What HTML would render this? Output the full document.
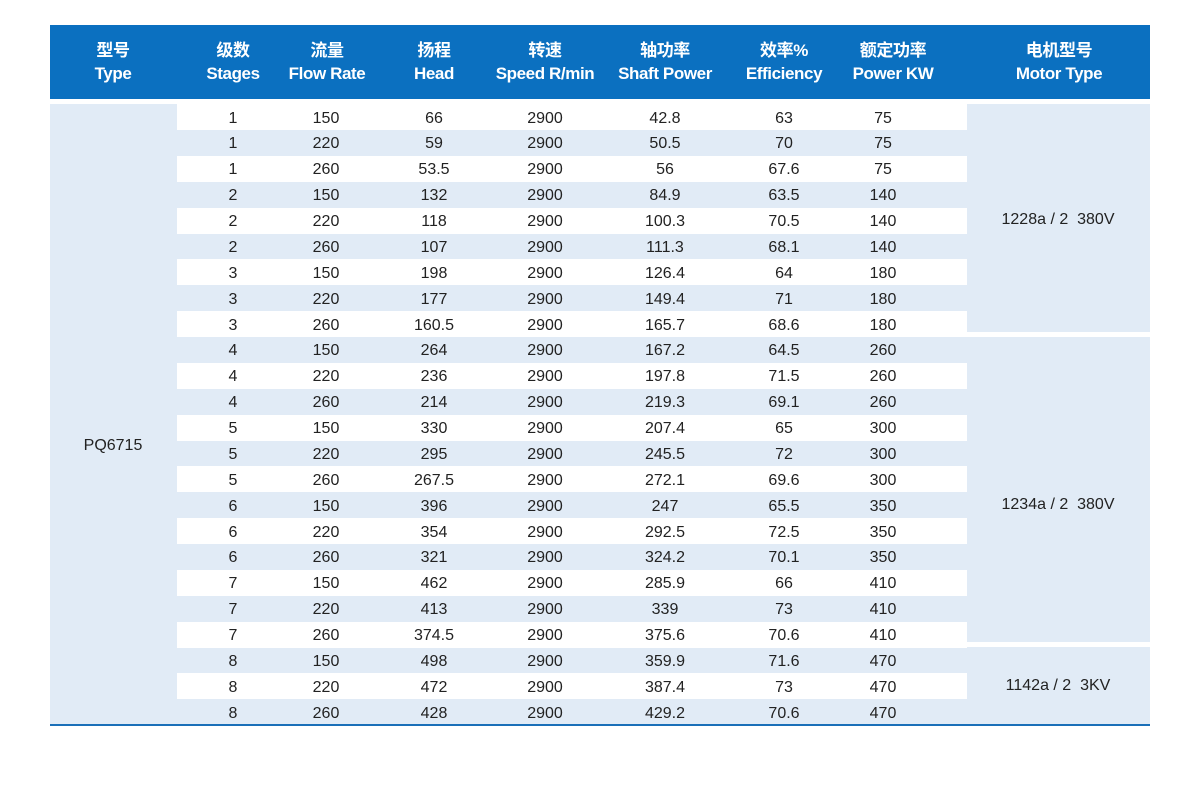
<!DOCTYPE html>
<html><head><meta charset="utf-8"><style>
body{margin:0;width:1200px;height:786px;background:#fff;position:relative;overflow:hidden;font-family:"Liberation Sans","Noto Sans CJK SC",sans-serif}
.hd{position:absolute;left:50px;top:25px;width:1100px;height:74px;background:#0b70c0}
.h{position:absolute;top:39px;color:#fff;font-weight:bold;font-size:17px;line-height:23px;text-align:center;width:160px;margin-left:-80px;letter-spacing:-0.4px}
.lb{position:absolute;background:#e1ebf6}
.r{position:absolute;left:177px;width:790px;height:26px}
.c{position:absolute;width:120px;margin-left:-60px;text-align:center;font-size:16px;color:#222;line-height:26px}
.m{position:absolute;font-size:16px;color:#222;width:180px;margin-left:-90px;text-align:center}
</style></head><body>
<div class="hd"></div>
<div class="h" style="left:113px">型号<br>Type</div>
<div class="h" style="left:233px">级数<br>Stages</div>
<div class="h" style="left:327px">流量<br>Flow Rate</div>
<div class="h" style="left:434px">扬程<br>Head</div>
<div class="h" style="left:545px">转速<br>Speed R/min</div>
<div class="h" style="left:665px">轴功率<br>Shaft Power</div>
<div class="h" style="left:784px">效率%<br>Efficiency</div>
<div class="h" style="left:893px">额定功率<br>Power KW</div>
<div class="h" style="left:1059px">电机型号<br>Motor Type</div>
<div class="lb" style="left:50px;top:104px;width:917px;height:621px"></div>
<div class="lb" style="left:967px;top:104px;width:183px;height:228px"></div>
<div class="lb" style="left:967px;top:337px;width:183px;height:305px"></div>
<div class="lb" style="left:967px;top:647px;width:183px;height:78px"></div>
<div style="position:absolute;left:50px;top:724px;width:1100px;height:2px;background:#1a6fb8"></div>
<div class="m" style="left:113px;top:437px">PQ6715</div>
<div class="m" style="left:1058px;top:211px">1228a / 2&nbsp; 380V</div>
<div class="m" style="left:1058px;top:496px">1234a / 2&nbsp; 380V</div>
<div class="m" style="left:1058px;top:677px">1142a / 2&nbsp; 3KV</div>
<div id="rows"></div>
<script>
var d=[[1,150,66,42.8,63,75],[1,220,59,50.5,70,75],[1,260,53.5,56,67.6,75],[2,150,132,84.9,63.5,140],[2,220,118,100.3,70.5,140],[2,260,107,111.3,68.1,140],[3,150,198,126.4,64,180],[3,220,177,149.4,71,180],[3,260,160.5,165.7,68.6,180],[4,150,264,167.2,64.5,260],[4,220,236,197.8,71.5,260],[4,260,214,219.3,69.1,260],[5,150,330,207.4,65,300],[5,220,295,245.5,72,300],[5,260,267.5,272.1,69.6,300],[6,150,396,247,65.5,350],[6,220,354,292.5,72.5,350],[6,260,321,324.2,70.1,350],[7,150,462,285.9,66,410],[7,220,413,339,73,410],[7,260,374.5,375.6,70.6,410],[8,150,498,359.9,71.6,470],[8,220,472,387.4,73,470],[8,260,428,429.2,70.6,470]];
var xs=[233,326,434,545,665,784,883],h='';
d.forEach(function(r,i){var y=104+i*25.875;
if(i%2==0)h+='<div class="r" style="top:'+y+'px;background:#fff"></div>';
var v=[r[0],r[1],r[2],2900,r[3],r[4],r[5]];
v.forEach(function(t,j){h+='<div class="c" style="left:'+xs[j]+'px;top:'+(y+1.5)+'px">'+t+'</div>';});});
document.getElementById('rows').innerHTML=h;
</script>
</body></html>
